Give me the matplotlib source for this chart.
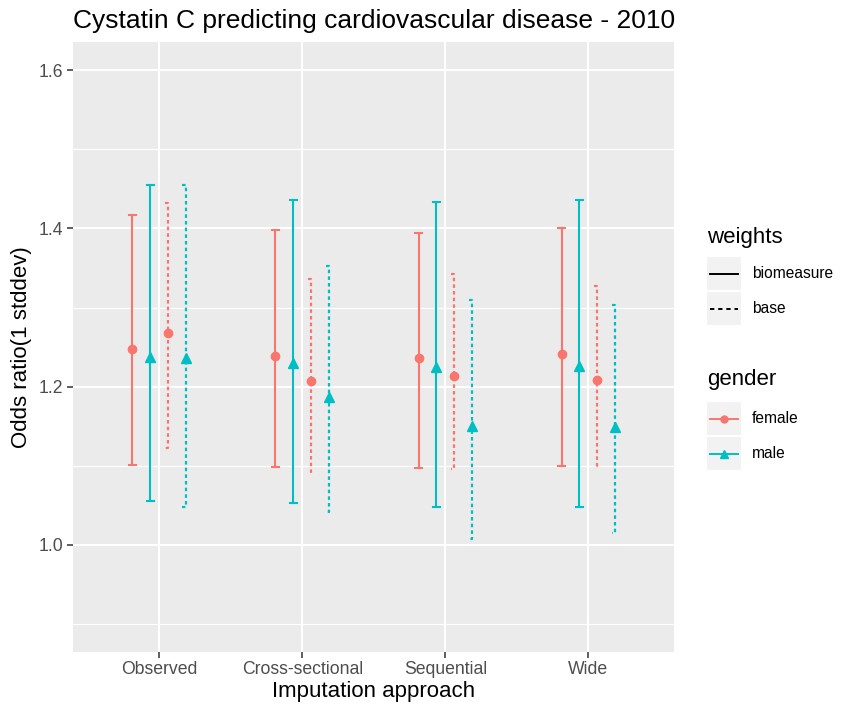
import numpy as np
import matplotlib.pyplot as plt
from matplotlib.patches import Rectangle

plt.rcParams['font.family'] = ['Liberation Sans', 'DejaVu Sans']

approaches = ['Observed', 'Cross-sectional', 'Sequential', 'Wide']
genders = ['female', 'male']
weights = ['biomeasure', 'base']

# odds ratio estimates and 95% intervals, one list per gender/weights combo
female_bio_or = [1.248, 1.239, 1.236, 1.241]
female_bio_lo = [1.101, 1.099, 1.097, 1.100]
female_bio_hi = [1.417, 1.398, 1.394, 1.400]

male_bio_or = [1.238, 1.230, 1.225, 1.226]
male_bio_lo = [1.056, 1.053, 1.048, 1.048]
male_bio_hi = [1.455, 1.436, 1.433, 1.436]

female_base_or = [1.268, 1.207, 1.213, 1.208]
female_base_lo = [1.123, 1.091, 1.096, 1.100]
female_base_hi = [1.432, 1.336, 1.343, 1.327]

male_base_or = [1.236, 1.187, 1.150, 1.149]
male_base_lo = [1.048, 1.041, 1.008, 1.015]
male_base_hi = [1.455, 1.352, 1.309, 1.303]

colors = {'female': '#F8766D', 'male': '#00BFC4'}
markers = {'female': 'o', 'male': '^'}
msizes = {'female': 6, 'male': 7}
DOTTED = (0, (1.6, 1.4))

series = [
    ('female', 'biomeasure', female_bio_or, female_bio_lo, female_bio_hi, -0.1875),
    ('male', 'biomeasure', male_bio_or, male_bio_lo, male_bio_hi, -0.0625),
    ('female', 'base', female_base_or, female_base_lo, female_base_hi, 0.0625),
    ('male', 'base', male_base_or, male_base_lo, male_base_hi, 0.1875),
]

W, H = 847, 710
fig = plt.figure(figsize=(W / 100, H / 100), dpi=100)
left, right, top, bottom = 73.3, 674.3, 41.7, 651.7
ax = fig.add_axes([left / W, 1 - bottom / H, (right - left) / W, (bottom - top) / H])
ax.set_facecolor('#EBEBEB')
for s in ax.spines.values():
    s.set_visible(False)

xpos = np.arange(1, len(approaches) + 1)
ax.set_xlim(0.4, 4.6)
ax.set_ylim(0.865, 1.636)

# ggplot-like grid
for y in [0.9, 1.1, 1.3, 1.5]:
    ax.axhline(y, color='white', lw=0.8, zorder=0)
for y in [1.0, 1.2, 1.4, 1.6]:
    ax.axhline(y, color='white', lw=1.5, zorder=0)
for x in xpos:
    ax.axvline(x, color='white', lw=1.5, zorder=0)

cap = 0.025
for g, w, est, lo, hi, off in series:
    c = colors[g]
    for i, x0 in enumerate(xpos):
        x = x0 + off
        if w == 'biomeasure':
            ax.plot([x, x], [lo[i], hi[i]], color=c, lw=1.5, zorder=2)
            ax.plot([x - cap, x + cap], [hi[i], hi[i]], color=c, lw=1.5, zorder=2)
            ax.plot([x - cap, x + cap], [lo[i], lo[i]], color=c, lw=1.5, zorder=2)
        else:
            ax.plot([x - cap, x, x, x - cap], [hi[i], hi[i], lo[i], lo[i]],
                    color=c, lw=1.6, ls=DOTTED, zorder=2)
    ax.plot(xpos + off, est, ls='none', marker=markers[g], ms=msizes[g],
            color=c, mec=c, zorder=3)

ax.set_xticks(xpos)
ax.set_xticklabels(approaches)
ax.set_yticks([1.0, 1.2, 1.4, 1.6])
ax.set_yticklabels(['1.0', '1.2', '1.4', '1.6'])
ax.tick_params(axis='both', colors='#333333', length=4, width=1.1,
               labelsize=12.7, labelcolor='#4D4D4D', pad=3)
ax.set_xlabel('Imputation approach', fontsize=16, labelpad=2)
ax.set_ylabel('Odds ratio(1 stddev)', fontsize=16, labelpad=5)
ax.set_title('Cystatin C predicting cardiovascular disease - 2010',
             fontsize=19, loc='left', pad=10)

# legends drawn on an overlay in pixel coordinates
lg = fig.add_axes([0, 0, 1, 1])
lg.set_xlim(0, W)
lg.set_ylim(H, 0)
lg.axis('off')

kx0, kw, kh = 707, 34, 33
lg.text(kx0, 243, 'weights', fontsize=16, va='baseline')
for j, (w, ls) in enumerate(zip(weights, ['-', (0, (2.2, 2.0))])):
    ky = 257 + j * 35
    lg.add_patch(Rectangle((kx0, ky), kw, kh, color='#F2F2F2', lw=0))
    lg.plot([kx0 + 3, kx0 + kw - 3], [ky + kh / 2] * 2, color='black', lw=1.4, ls=ls)
    lg.text(kx0 + kw + 11, ky + kh / 2, w, fontsize=11.2, va='center')

lg.text(kx0, 385, 'gender', fontsize=16, va='baseline')
for j, g in enumerate(genders):
    ky = 402 + j * 35
    lg.add_patch(Rectangle((kx0, ky), kw, kh, color='#F2F2F2', lw=0))
    lg.plot([kx0 + 3, kx0 + kw - 3], [ky + kh / 2] * 2, color=colors[g], lw=1.4)
    lg.plot([kx0 + kw / 2], [ky + kh / 2], marker=markers[g], ms=msizes[g] - 1,
            color=colors[g], ls='none')
    lg.text(kx0 + kw + 11, ky + kh / 2, g, fontsize=11.2, va='center')

fig.savefig('out.png', dpi=100)
